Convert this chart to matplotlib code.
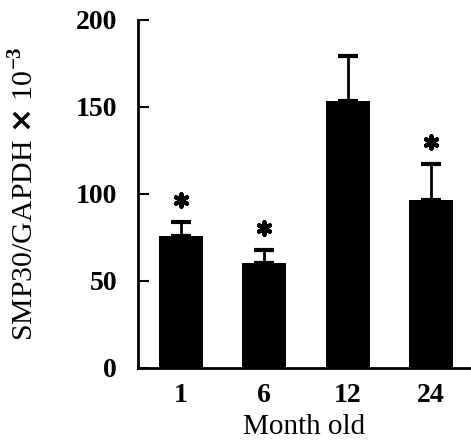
import numpy as np
import matplotlib.pyplot as plt

plt.rcParams.update({
    'font.family': 'serif',
    'font.serif': ['Liberation Serif', 'DejaVu Serif'],
    'mathtext.fontset': 'custom',
    'mathtext.rm': 'Liberation Serif',
    'mathtext.sf': 'DejaVu Sans',
    'font.size': 20,
    'font.weight': 'bold',
})

# データ
months = ['1', '6', '12', '24']
ratio = [75.9, 60.3, 153.4, 96.5]
err = [8.0, 7.5, 26.0, 20.7]
significant = [True, True, False, True]

fig = plt.figure(figsize=(4.71, 4.48), dpi=100)
ax = fig.add_axes([0.293, 0.1786, 0.705, 0.777])

x = np.arange(len(months))
ax.bar(x, ratio, width=0.53, color='black')
ax.errorbar(x, ratio, yerr=[np.zeros(len(err)), err], fmt='none',
            ecolor='black', elinewidth=2, capsize=7.5, capthick=3)

# 有意差のマーク
for xi, r, e, s in zip(x, ratio, err, significant):
    if s:
        ax.scatter(xi, r + e + 12.5, marker=(6, 2, 0), s=80,
                   color='black', linewidths=3)

ax.set_xlim(-0.516, 3.468)
ax.set_ylim(0, 200)
ax.set_yticks([0, 50, 100, 150, 200])
ax.set_xticks(x)
ax.set_xticklabels(months)
ax.tick_params(axis='y', direction='in', length=8, width=1.5, pad=15)
ax.tick_params(axis='x', length=0, pad=11)

for side in ['top', 'right']:
    ax.spines[side].set_visible(False)
for side in ['left', 'bottom']:
    ax.spines[side].set_linewidth(2)

ax.set_xlabel('Month old', fontsize=21, fontweight='normal', labelpad=4)
ax.set_ylabel(r'SMP30/GAPDH $\mathsf{\times}$ 10$^{-3}$',
              fontsize=21.5, fontweight='normal', labelpad=26)

fig.savefig('out.png', dpi=100)
